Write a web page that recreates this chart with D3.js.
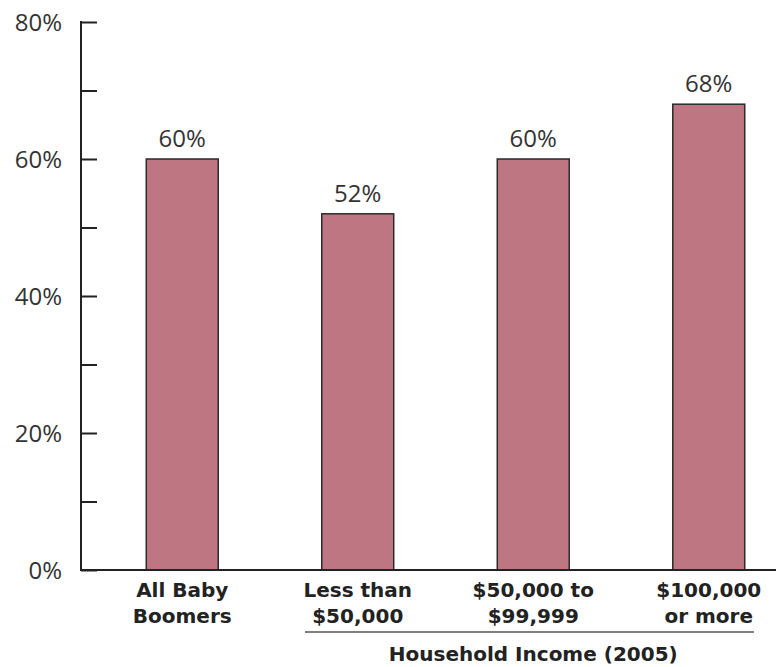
<!DOCTYPE html>
<html>
<head>
<meta charset="utf-8">
<script src="https://cdn.jsdelivr.net/npm/d3@7/dist/d3.min.js"></script>
<style>
  body { margin: 0; background: #fff; }
  text { font-family: 'Open Sans', 'DejaVu Sans', sans-serif; }
  text.cat, text.title { font-family: 'DejaVu Sans', sans-serif; }
</style>
</head>
<body>
<div id="chart"></div>
<script>
// data
var categories = ['All Baby|Boomers', 'Less than|$50,000', '$50,000 to|$99,999', '$100,000|or more']
var values = [60, 52, 60, 68]
var majorTicks = [0, 20, 40, 60, 80]
var minorTicks = [10, 30, 50, 70]
var groupTitle = 'Household Income (2005)'

var width = 776, height = 667

var svg = d3.select('#chart').append('svg')
  .attr('width', width)
  .attr('height', height)

var y = d3.scaleLinear().domain([0, 80]).range([570, 22])
var x = d3.scaleBand()
  .domain(categories)
  .range([94.5, 796.5])
  .paddingInner(0.59)
  .paddingOuter(0.295)

// bars
svg.selectAll('rect.bar')
  .data(values)
  .enter().append('rect')
  .attr('class', 'bar')
  .attr('x', function (d, i) { return x(categories[i]) })
  .attr('y', function (d) { return y(d) })
  .attr('width', x.bandwidth())
  .attr('height', function (d) { return y(0) - y(d) })
  .attr('fill', '#bd7682')
  .attr('stroke', '#2b2b2b')
  .attr('stroke-width', 1.5)

// value labels
svg.selectAll('text.val')
  .data(values)
  .enter().append('text')
  .attr('class', 'val')
  .attr('x', function (d, i) { return x(categories[i]) + x.bandwidth() / 2 })
  .attr('y', function (d) { return y(d) - 12 })
  .attr('text-anchor', 'middle')
  .attr('fill', '#333')
  .style('font-size', '24px')
  .text(function (d) { return d + '%' })

// y axis: ticks point into the plot
var yAxis = d3.axisRight(y)
  .tickValues(majorTicks.concat(minorTicks))
  .tickSize(16)
  .tickFormat('')
var gy = svg.append('g')
  .attr('transform', 'translate(81,0)')
  .call(yAxis)
gy.select('.domain').remove()
gy.selectAll('line').attr('stroke', '#222').attr('stroke-width', 2)
gy.append('line')
  .attr('x1', 0).attr('x2', 0)
  .attr('y1', y(80) - 1).attr('y2', y(0) + 1)
  .attr('stroke', '#222').attr('stroke-width', 2)

// y tick labels
svg.selectAll('text.ytick')
  .data(majorTicks)
  .enter().append('text')
  .attr('class', 'ytick')
  .attr('x', 62)
  .attr('y', function (d) { return y(d) })
  .attr('dy', '0.36em')
  .attr('text-anchor', 'end')
  .attr('fill', '#333')
  .style('font-size', '24px')
  .text(function (d) { return d + '%' })

// x axis line
svg.append('line')
  .attr('x1', 80).attr('x2', 776)
  .attr('y1', y(0)).attr('y2', y(0))
  .attr('stroke', '#222').attr('stroke-width', 2)

// category labels (two lines each)
var cat = svg.selectAll('text.cat')
  .data(categories)
  .enter().append('text')
  .attr('class', 'cat')
  .attr('text-anchor', 'middle')
  .attr('fill', '#222')
  .style('font-size', '20px')
  .style('font-weight', 'bold')
cat.selectAll('tspan')
  .data(function (d) { return d.split('|').map(function (t) { return { t: t, c: d } }) })
  .enter().append('tspan')
  .attr('x', function (d) { return x(d.c) + x.bandwidth() / 2 })
  .attr('y', function (d, i) { return 597 + i * 26 })
  .text(function (d) { return d.t })

// bracket line under income groups
svg.append('line')
  .attr('x1', 305).attr('x2', 754)
  .attr('y1', 632).attr('y2', 632)
  .attr('stroke', '#555').attr('stroke-width', 1.5)

svg.append('text')
  .attr('class', 'title')
  .attr('x', (x(categories[1]) + x(categories[3]) + x.bandwidth()) / 2)
  .attr('y', 661)
  .attr('text-anchor', 'middle')
  .attr('fill', '#222')
  .style('font-size', '20px')
  .style('font-weight', 'bold')
  .text(groupTitle)
</script>
</body>
</html>
